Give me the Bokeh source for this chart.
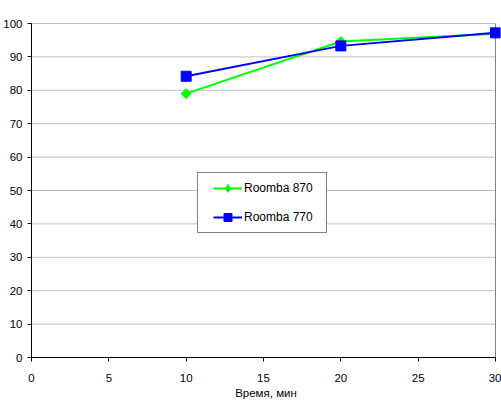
import math
from bokeh.plotting import figure
from bokeh.models import Range1d, Legend, LegendItem, Label, FixedTicker
from bokeh.embed import file_html
from bokeh.resources import INLINE

# ---- data ----
minutes = [10, 20, 30]
roomba_870 = [79.0, 94.6, 96.9]
roomba_770 = [84.2, 93.3, 97.2]
series_names = ["Roomba 870", "Roomba 770"]
x_ticks = [0, 5, 10, 15, 20, 25, 30]
y_ticks = [0, 10, 20, 30, 40, 50, 60, 70, 80, 90, 100]
x_title = "Время, мин"
y_title = "%"

FONT = "Liberation Sans"
x_end = x_ticks[-1] * 469.0 / 464.0  # a little room so the last markers are not clipped

p = figure(width=501, height=405, output_backend="svg", toolbar_location=None,
           x_range=Range1d(x_ticks[0], x_end), y_range=Range1d(y_ticks[0], y_ticks[-1]),
           min_border_left=31, min_border_right=1, min_border_top=23, min_border_bottom=48)
p.outline_line_color = None
p.background_fill_color = "white"
p.border_fill_color = "white"
p.xgrid.visible = False
p.ygrid.visible = False

# grid lines and the grey frame on top / right, drawn within the data bounds
grid_y = y_ticks[1:-1]
p.segment(x0=[x_ticks[0]] * len(grid_y), x1=[x_ticks[-1]] * len(grid_y), y0=grid_y, y1=grid_y,
          line_color="#C0C0C0", line_width=1)
p.segment(x0=[x_ticks[0], x_ticks[-1]], x1=[x_ticks[-1], x_ticks[-1]],
          y0=[y_ticks[-1], y_ticks[0]], y1=[y_ticks[-1], y_ticks[-1]],
          line_color="#808080", line_width=1)

for ax, ticks in ((p.xaxis[0], x_ticks), (p.yaxis[0], y_ticks)):
    ax.ticker = FixedTicker(ticks=ticks)
    ax.minor_tick_line_color = None
    ax.major_tick_in = 0
    ax.major_tick_out = 4
    ax.axis_line_color = "black"
    ax.major_tick_line_color = "black"
    ax.major_label_text_font = FONT
    ax.major_label_text_font_size = "11.5px"
    ax.major_label_text_color = "black"
p.xaxis.bounds = (x_ticks[0], x_ticks[-1])
p.yaxis.bounds = (y_ticks[0], y_ticks[-1])
p.yaxis.major_label_standoff = 5
p.xaxis.major_label_standoff = 12
p.xaxis.axis_label = x_title
p.xaxis.axis_label_text_font = FONT
p.xaxis.axis_label_text_font_size = "11.5px"
p.xaxis.axis_label_text_font_style = "normal"
p.xaxis.axis_label_text_color = "black"
p.xaxis.axis_label_standoff = 2

l1 = p.line(minutes, roomba_870, line_color="#00FF00", line_width=2)
# diamond used for the legend key (hidden under the rotated-square markers)
s1_key = p.scatter(minutes, roomba_870, marker="diamond", size=9,
                   fill_color="#00FF00", line_color="#00FF00")
s1 = p.scatter(minutes, roomba_870, marker="square", angle=math.pi / 4, size=7,
               fill_color="#00FF00", line_color="#00FF00")
l2 = p.line(minutes, roomba_770, line_color="#0000FF", line_width=2)
s2 = p.scatter(minutes, roomba_770, marker="square", size=10,
               fill_color="#0000FF", line_color="#0000FF")

p.add_layout(Label(x=x_ticks[0], y=y_ticks[-1], text=y_title, text_align="center",
                   text_baseline="middle", y_offset=17, text_font=FONT,
                   text_font_size="12px", text_color="black"))

legend = Legend(items=[LegendItem(label=series_names[0], renderers=[l1, s1_key]),
                       LegendItem(label=series_names[1], renderers=[l2, s2])],
                location=(166, 124), orientation="vertical")
legend.border_line_color = "black"
legend.border_line_width = 1
legend.background_fill_color = "white"
legend.background_fill_alpha = 1
legend.label_text_font = FONT
legend.label_text_font_size = "12px"
legend.label_text_color = "black"
legend.glyph_width = 29
legend.glyph_height = 20
legend.label_height = 20
legend.label_standoff = 2
legend.spacing = 9
legend.margin = 0
try:
    legend.padding = (15, 13, 5, 5)
except Exception:
    legend.padding = 5
p.add_layout(legend)

open("out.html", "w").write(file_html(p, INLINE))
